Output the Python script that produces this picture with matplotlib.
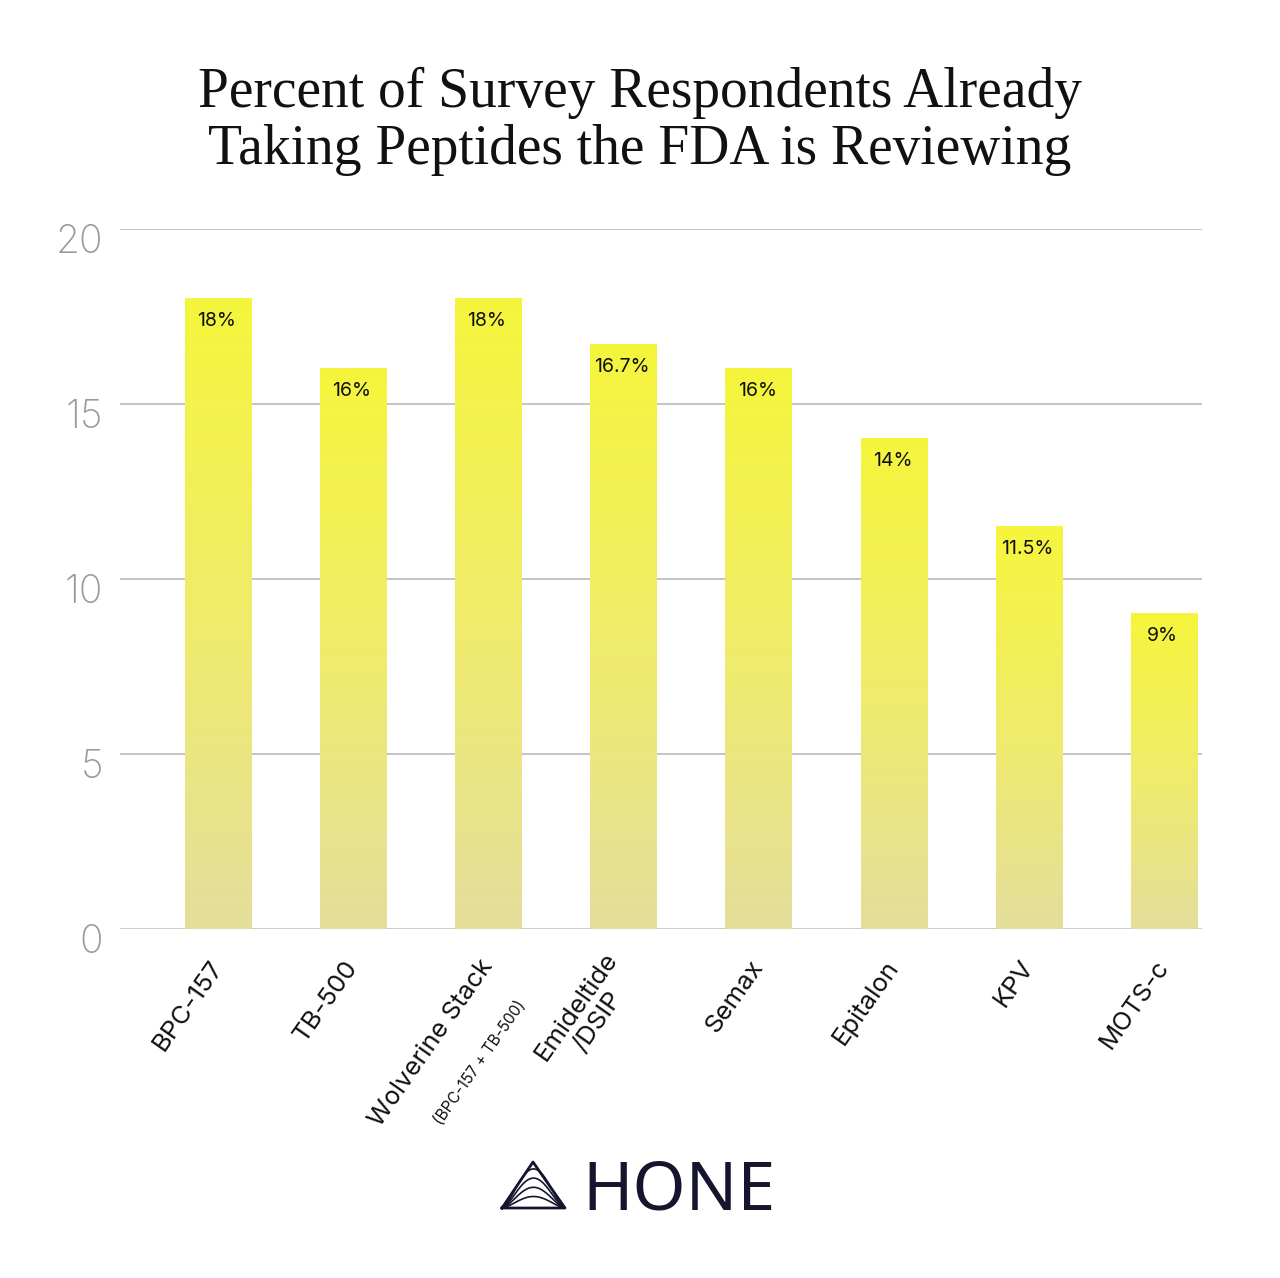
import matplotlib
matplotlib.use("Agg")
import matplotlib.pyplot as plt
import matplotlib.transforms as mtransforms
import numpy as np
from matplotlib.colors import LinearSegmentedColormap

peptides = ["BPC-157", "TB-500", "Wolverine Stack", "Emideltide\n/DSIP",
            "Semax", "Epitalon", "KPV", "MOTS-c"]
percent = [18, 16, 18, 16.7, 16, 14, 11.5, 9]
value_labels = ["18%", "16%", "18%", "16.7%", "16%", "14%", "11.5%", "9%"]
yticks = [0, 5, 10, 15, 20]

fig = plt.figure(figsize=(12.8, 12.78), dpi=100)
ax = fig.add_axes([0.09375, 0.273, 0.8453, 0.548])

x = np.arange(len(peptides))
width = 0.49

# gradient per bar: khaki at bottom -> bright yellow at top
cmap = LinearSegmentedColormap.from_list("hone", ["#e4de9c", "#f0ec6a", "#f6f53c"])
grad = np.linspace(0, 1, 256).reshape(-1, 1)
bars = ax.bar(x, percent, width=width, color="none", zorder=2)
for rect in bars:
    bx, bw, bh = rect.get_x(), rect.get_width(), rect.get_height()
    ax.imshow(grad, cmap=cmap, origin="lower", aspect="auto",
              extent=(bx, bx + bw, 0, bh), zorder=2)

for xi, h, lab in zip(x, percent, value_labels):
    ax.annotate(lab, (xi, h), xytext=(-1, -16), textcoords="offset points",
                ha="center", va="center", fontsize=14, family="Inter",
                color="#111111", zorder=3)

ax.set_xlim(-0.724, 7.28)
ax.set_ylim(0, 20)
ax.set_yticks(yticks)
ax.yaxis.grid(True, color="#c4c4c4", linewidth=1.4, zorder=0)
ax.set_axisbelow(True)
for s in ax.spines.values():
    s.set_visible(False)
ax.axhline(0, color="#cfcfcf", linewidth=2, zorder=1)
ax.tick_params(axis="y", length=0, pad=12, labelsize=28, labelcolor="#9a9a9a")
# tick numbers sit a little below their gridlines
shift = mtransforms.ScaledTranslation(0, -7 / 72, fig.dpi_scale_trans)
for t in ax.get_yticklabels():
    t.set_family("Inter")
    t.set_fontweight("light")
    t.set_transform(t.get_transform() + shift)

ax.set_xticks(x)
ax.set_xticklabels(peptides, rotation=55, ha="right", va="center",
                   rotation_mode="anchor", fontsize=18.5, family="Inter",
                   multialignment="center", color="#111111")
ax.tick_params(axis="x", length=0, pad=24)

# small subtitle under the Wolverine Stack label
ax.annotate("(BPC-157 + TB-500)", xy=(2, 0), xycoords=("data", "axes fraction"),
            xytext=(-6, -96), textcoords="offset points", rotation=55,
            rotation_mode="anchor", ha="center", va="center", fontsize=11,
            family="Inter", color="#111111", annotation_clip=False)

fig.text(0.5, 0.905, "Percent of Survey Respondents Already\nTaking Peptides the FDA is Reviewing",
         ha="center", va="center", fontsize=40, family="Liberation Serif",
         linespacing=1.12, color="#111111")

# HONE logo
fig.text(0.455, 0.0675, "HONE", ha="left", va="center", fontsize=49,
         family="Noto Sans", fontweight="medium", color="#15152e")
lx0, lx1, ly0 = 502 / 1280, 565 / 1280, 1 - 1208 / 1278
apex = (533 / 1280, 1 - 1162 / 1278)
fig.add_artist(plt.Line2D([lx0, apex[0], lx1, lx0], [ly0, apex[1], ly0, ly0],
                          transform=fig.transFigure, color="#15152e", linewidth=2))
t = np.linspace(0, 1, 60)
for k in [0.25, 0.45, 0.65, 0.85]:
    cx = lx0 + (lx1 - lx0) * t
    cy = ly0 + (apex[1] - ly0) * k * np.sin(np.pi * t) ** 1.5
    fig.add_artist(plt.Line2D(cx, cy, transform=fig.transFigure,
                              color="#15152e", linewidth=1.2))

fig.savefig("out.png", dpi=100, facecolor="white")
